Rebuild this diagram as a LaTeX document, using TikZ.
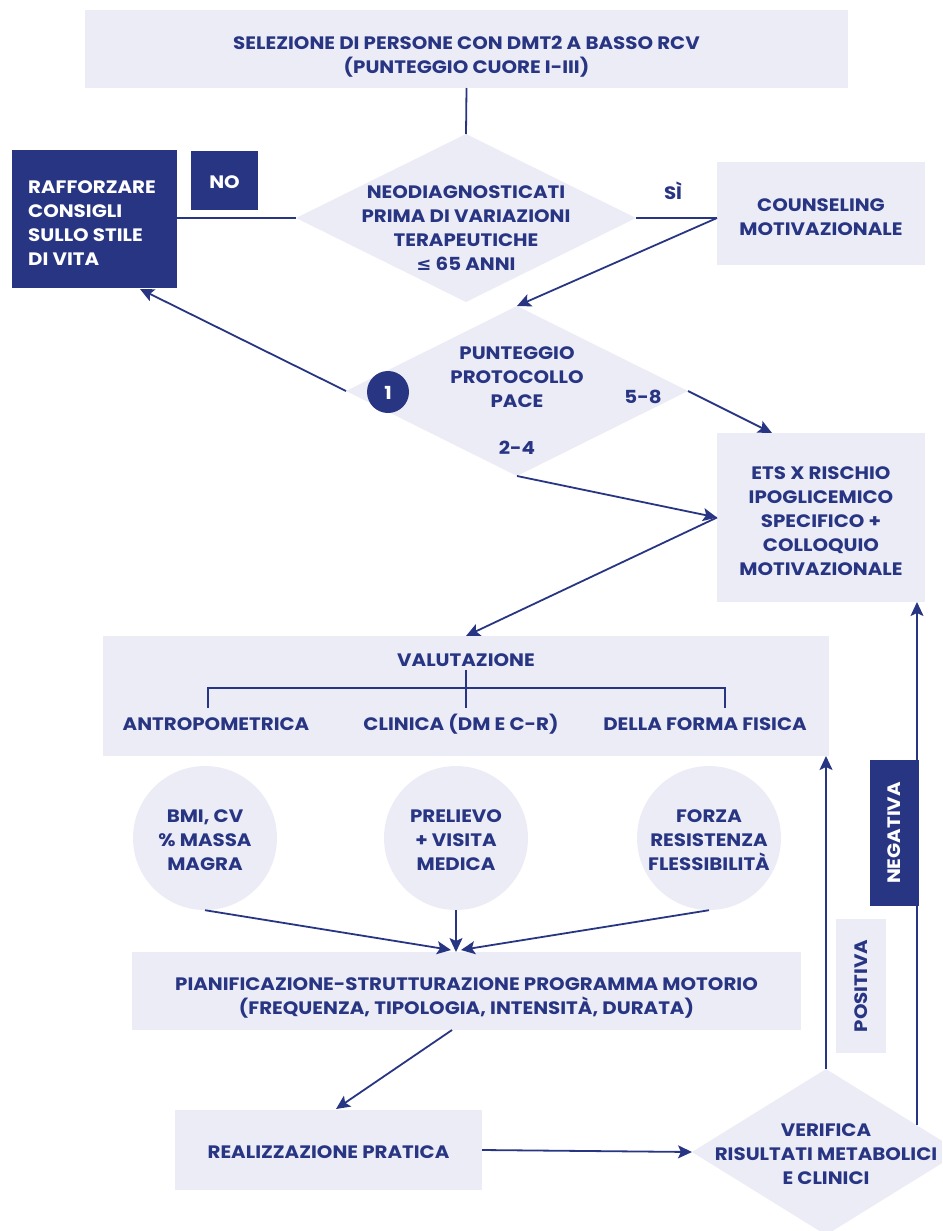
\documentclass[tikz,border=0pt]{standalone}
\usepackage{fontspec}
\setmainfont{Poppins}[BoldFont={Poppins Bold}, FakeStretch=1.1]
\newfontfamily\symfont{DejaVu Sans}[FakeStretch=1.0]
\usetikzlibrary{shapes.geometric,arrows.meta,calc}
\definecolor{navy}{RGB}{40,53,131}
\definecolor{pale}{RGB}{236,236,246}
\begin{document}
\begin{tikzpicture}[x=1pt,y=-1pt,
  lbox/.style={fill=pale, inner sep=0pt, outer sep=0pt},
  dbox/.style={fill=navy, inner sep=0pt, outer sep=0pt},
  txt/.style={text=navy, font=\bfseries\fontsize{18}{24}\selectfont, align=center, inner sep=0pt},
  wtxt/.style={txt, text=white},
  link/.style={draw=navy, line width=1.8pt},
  arr/.style={link, -{Stealth[length=14pt,width=13pt,inset=3pt]}},
  dmd/.style={diamond, fill=pale, inner sep=0pt, outer sep=0pt},
  circ/.style={circle, fill=pale, inner sep=0pt, minimum size=144pt}
]
\clip (0,0) rectangle (942,1231);
\useasboundingbox (0,0) rectangle (942,1231);

% boxes
\node[lbox, minimum width=763pt, minimum height=78pt] (top) at (466.5,49) {};
\node[txt] (toptxt) at (466.5,57)
  {SELEZIONE DI PERSONE CON DMT2 A BASSO RCV\\(PUNTEGGIO CUORE I-III)};
\node[dbox, minimum width=165pt, minimum height=138pt] (raff) at (94.5,219) {};
\node[wtxt, align=left, anchor=west] (rafftxt) at (28,223)
  {RAFFORZARE\\CONSIGLI\\SULLO STILE\\DI VITA};
\node[dbox, minimum width=67pt, minimum height=59pt] (no) at (224.5,180.5) {};
\node[wtxt] (notxt) at (224.5,182) {NO};
\node[lbox, minimum width=208pt, minimum height=103pt] (coun) at (821,213.5) {};
\node[txt] (countxt) at (821,217.5) {COUNSELING\\MOTIVAZIONALE};

% diamond 1
\node[dmd, minimum width=340pt, minimum height=168pt] (d1) at (466,218) {};
\node[txt] (d1txt) at (466,228.5)
  {NEODIAGNOSTICATI\\PRIMA DI VARIAZIONI\\TERAPEUTICHE\\{\symfont\bfseries ≤} 65 ANNI};
\node[txt] (si) at (673,191) {SÌ};

% diamond 2
\node[dmd, minimum width=342pt, minimum height=170pt] (d2) at (517,391) {};
\node[txt] (d2txt) at (517,377) {PUNTEGGIO\\PROTOCOLLO\\PACE};
\node[txt] (l58) at (643,397) {5-8};
\node[txt] (l24) at (517,448) {2-4};
\node[circle, fill=navy, minimum size=42pt, inner sep=0pt] (one) at (388,392) {};
\node[wtxt] (onetxt) at (388,393) {1};

% ETS
\node[lbox, minimum width=208pt, minimum height=169pt] (ets) at (821,517.5) {};
\node[txt] (etstxt) at (821,521)
  {ETS X RISCHIO\\IPOGLICEMICO\\SPECIFICO +\\COLLOQUIO\\MOTIVAZIONALE};

% valutazione
\node[lbox, minimum width=726pt, minimum height=120pt] (val) at (466,696) {};
\node[txt] (valtxt) at (466,660) {VALUTAZIONE};
\node[txt] (antr) at (216,724) {ANTROPOMETRICA};
\node[txt] (clin) at (461,724) {CLINICA (DM E C-R)};
\node[txt] (forma) at (705,724) {DELLA FORMA FISICA};
\coordinate (bt) at (466,670);
\coordinate (bl) at (208,688);
\coordinate (br) at (725,688);
\draw[link, line width=1.6pt] (bt) -- (466,708);
\draw[link, line width=1.6pt] (208,708) -- (bl) -- (br) -- (725,708);

% circles
\node[circ] (c1) at (205,838) {};
\node[txt] (c1txt) at (205,840) {BMI, CV\\\% MASSA\\MAGRA};
\node[circ] (c2) at (456,838) {};
\node[txt] (c2txt) at (456,840) {PRELIEVO\\+ VISITA\\MEDICA};
\node[circ] (c3) at (709,838) {};
\node[txt] (c3txt) at (709,840) {FORZA\\RESISTENZA\\FLESSIBILITÀ};

% pianificazione
\node[lbox, minimum width=669pt, minimum height=78pt] (pian) at (466.5,991) {};
\node[txt] (piantxt) at (466.5,998)
  {PIANIFICAZIONE-STRUTTURAZIONE PROGRAMMA MOTORIO\\(FREQUENZA, TIPOLOGIA, INTENSITÀ, DURATA)};
\node[lbox, minimum width=307pt, minimum height=80pt] (real) at (328.5,1150) {};
\node[txt] (realtxt) at (328.5,1152) {REALIZZAZIONE PRATICA};

% verifica
\node[dmd, minimum width=268pt, minimum height=166pt] (ver) at (826,1152) {};
\node[txt] (vertxt) at (826,1154) {VERIFICA\\RISULTATI METABOLICI\\E CLINICI};

% connectors
\coordinate (raffin) at (140,289);
\coordinate (etsin) at (772,433);
\coordinate (p1) at (451,950);
\coordinate (p3) at (461,950);
\coordinate (pout) at (452,1030);
\coordinate (realin) at (336,1109);
\coordinate (negout) at (917,1125);

\draw[link] (top.south) -- (d1.north);
\draw[link] (d1.west) -- (d1.west -| raff.east);
\draw[link] (d1.east) -- (d1.east -| coun.west);
\draw[arr] (d1.east -| coun.west) -- (d2.north);
\draw[arr] (d2.west) -- (raffin);
\draw[arr] (d2.east) -- (etsin);
\draw[arr] (d2.south) -- (ets.west);
\draw[arr] (ets.west) -- (val.north);
\draw[arr] (c1.south) -- (p1);
\draw[arr] (c2.south) -- (c2.south |- pian.north);
\draw[arr] (c3.south) -- (p3);
\draw[arr] (pout) -- (realin);
\draw[arr] (real.east) -- (ver.west);
\draw[arr] (ver.north) -- (ver.north |- val.south);
\draw[arr] (negout) -- (negout |- ets.south);

% labels on the feedback paths
\node[lbox, minimum width=50pt, minimum height=134pt] (pos) at (861,986) {};
\node[txt, rotate=90] (postxt) at (861,986) {POSITIVA};
\node[dbox, minimum width=49pt, minimum height=146pt] (neg) at (894.5,833) {};
\node[wtxt, rotate=90] (negtxt) at (894.5,833) {NEGATIVA};
\end{tikzpicture}
\end{document}
